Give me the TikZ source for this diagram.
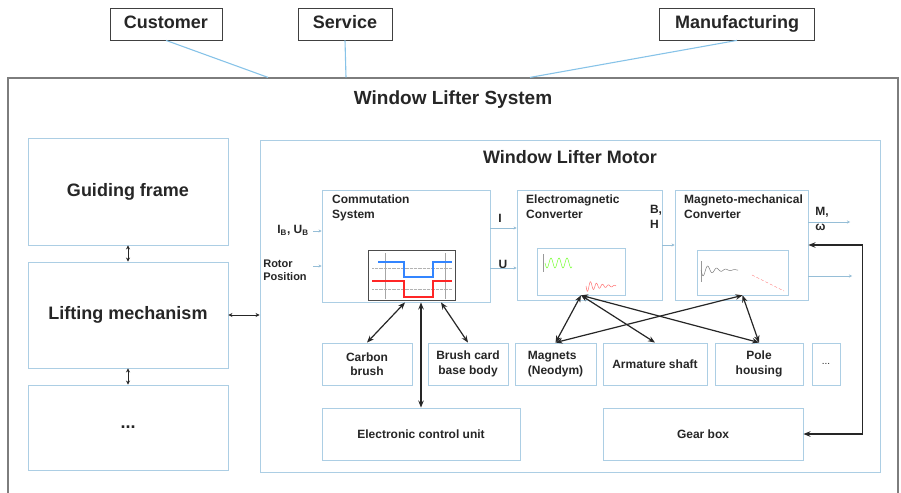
\documentclass[tikz,border=0pt]{standalone}
\usepackage{fontspec}
\setmainfont{Liberation Sans}
\usetikzlibrary{calc,arrows.meta}
\definecolor{frameblue}{RGB}{172,206,228}
\definecolor{linkblue}{RGB}{135,195,232}
\definecolor{sigblue}{RGB}{150,190,215}
\definecolor{outergray}{RGB}{125,125,125}

\begin{document}
\begin{tikzpicture}[x=1pt,y=-1pt,
  box/.style={draw=frameblue,line width=0.9pt,fill=white,inner sep=0pt,text=black!85},
  topbox/.style={draw=black!75,line width=0.8pt,fill=white,inner sep=0pt,minimum height=32pt,text height=13pt,text depth=4pt,font=\fontsize{18}{20}\selectfont\bfseries,text=black!85},
  part/.style={box,align=center,font=\fontsize{12}{14.5}\selectfont\bfseries},
  big/.style={box,minimum width=200pt,font=\fontsize{18}{20}\selectfont\bfseries},
  lbl/.style={inner sep=0pt,align=left,font=\fontsize{12}{14.5}\selectfont\bfseries,text=black!85},
  link/.style={<->,>={Stealth[length=7pt,width=5.5pt]},line width=1.2pt,black!85},
  sig/.style={->,>={Stealth[length=3pt,width=3pt]},sigblue,line width=0.5pt},
  plotbox/.style={draw=frameblue,line width=0.6pt,inner sep=0pt}]
\useasboundingbox (0,0) rectangle (901,492);

% stakeholders and system
\node[draw=outergray,line width=1.2pt,minimum width=890pt,minimum height=420pt] (sys) at (453,288) {};
\node[font=\fontsize{19}{21}\selectfont\bfseries,text=black!85] (systitle) at (453,100) {Window Lifter System};
\node[topbox,minimum width=112pt] (cust) at (166,24) {Customer};
\node[topbox,minimum width=94pt] (serv) at (345,24) {Service};
\node[topbox,minimum width=155pt] (manu) at (737,24) {Manufacturing};
\draw[linkblue,line width=1.1pt] (cust.south) -- ($(sys.north)+(-185,0)$);
\draw[linkblue,line width=1.1pt] (serv.south) -- ($(sys.north)+(-107,0)$);
\draw[linkblue,line width=1.1pt] (manu.south) -- ($(sys.north)+(77,0)$);

% mechanical side
\node[big,minimum height=107pt] (guide) at (128,191.5) {Guiding frame};
\node[big,minimum height=106pt] (lift) at (128,315) {Lifting mechanism};
\node[big,minimum height=85pt] (more) at (128,427.5) {...};
\draw[link,line width=0.8pt,>={Stealth[length=4pt,width=4pt]}] (guide.south) -- (lift.north);
\draw[link,line width=0.8pt,>={Stealth[length=4pt,width=4pt]}] (lift.south) -- (more.north);

% motor
\node[box,minimum width=620pt,minimum height=332pt] (motor) at (570,306) {};
\node[font=\fontsize{18}{20}\selectfont\bfseries,text=black!85] (motortitle) at (570,157) {Window Lifter Motor};
\draw[link,line width=0.8pt,>={Stealth[length=4pt,width=4pt]}] (lift.east) -- (motor.west |- lift.east);

\node[box,minimum width=168pt,minimum height=112pt] (com) at (406,246) {};
\node[box,minimum width=145pt,minimum height=110pt] (em) at (589.5,245) {};
\node[box,minimum width=133pt,minimum height=110pt] (mm) at (741.5,245) {};
\node[lbl,anchor=north west] (comlbl) at (332,195) {Commutation\\System};
\node[lbl,anchor=north west] (emlbl) at (526,195) {Electromagnetic\\Converter};
\node[lbl,anchor=north west] (mmlbl) at (684,195) {Magneto-mechanical\\Converter};

% small plots
\node[plotbox,draw=black!70,minimum width=87pt,minimum height=50pt] (complot) at (411.5,275) {};
\draw[black!30,densely dotted,line width=0.3pt] (372,268)--(452,268) (372,289)--(452,289);
\draw[black!35,line width=0.3pt] (385,253)--(385,299) (445,253)--(445,299);
\draw[blue!60!cyan!80,line width=1.1pt] (378,262)--(404,262)--(404,277)--(433,277)--(433,262)--(452,262);
\draw[red!85,line width=1.1pt] (372,281)--(404,281)--(404,297)--(433,297)--(433,281)--(452,281);
\node[plotbox,minimum width=88pt,minimum height=47pt] (emplot) at (581,271.5) {};
\draw[black!40,line width=0.3pt] (543,254)--(543,272);
\draw[green!55!lime!80,line width=0.5pt] plot[domain=545:572,samples=50] (\x,{263+5*sin(45*(\x-545))});
\draw[red!55,line width=0.5pt] plot[domain=586:616,samples=50] (\x,{286+6*exp(-(\x-586)/14)*sin(60*(\x-586))});
\node[plotbox,minimum width=91pt,minimum height=45pt] (mmplot) at (742.5,272.5) {};
\draw[black!40,line width=0.3pt] (701,261)--(701,282);
\draw[black!50,line width=0.5pt] plot[domain=701:738,samples=50] (\x,{270+7*exp(-(\x-701)/12)*sin(40*(\x-701))});
\draw[red!55,densely dashed,line width=0.4pt] (752,275)--(784,291);

% signals
\node[lbl] (ib) at (293,230) {I\textsubscript{B}, U\textsubscript{B}};
\node[lbl,font=\fontsize{11}{13}\selectfont\bfseries] (rotor) at (285,270) {Rotor\\Position};
\coordinate (ibend) at (313,231);
\coordinate (rotend) at (313,266);
\draw[sig] (ibend) -- (ibend -| com.west);
\draw[sig] (rotend) -- (rotend -| com.west);
\node[lbl] (ilbl) at (500,218) {I};
\node[lbl] (ulbl) at (503,264) {U};
\draw[sig] ($(com.east)+(0,-18)$) -- ($(em.west)+(0,-17)$);
\draw[sig] ($(com.east)+(0,22)$) -- ($(em.west)+(0,23)$);
\node[lbl] (bhlbl) at (656,217) {B,\\H};
\draw[sig] (em.east) -- (mm.west);
\node[lbl] (mwlbl) at (822,219) {M,\\ω};
\coordinate (mout) at (850,222);
\coordinate (wout) at (852,276);
\draw[sig] (mout -| mm.east) -- (mout);
\draw[sig] (wout -| mm.east) -- (wout);

% parts
\node[part,minimum width=90pt,minimum height=42pt] (carbon) at (367,364) {Carbon\\brush};
\node[part,minimum width=80pt,minimum height=42pt] (brush) at (468,364) {Brush card\\base body};
\node[part,minimum width=81pt,minimum height=42pt,align=left] (mag) at (555.5,364) {Magnets\\(Neodym)};
\node[part,minimum width=104pt,minimum height=42pt] (arm) at (655,364) {Armature shaft};
\node[part,minimum width=88pt,minimum height=42pt] (pole) at (759,364) {Pole\\housing};
\node[part,minimum width=28pt,minimum height=42pt,font=\fontsize{10}{12}\selectfont] (dots) at (826,364) {...};
\node[part,minimum width=198pt,minimum height=52pt] (ecu) at (421,434) {Electronic control unit};
\node[part,minimum width=200pt,minimum height=52pt] (gear) at (703,434) {Gear box};

% interactions
\draw[link] ($(com.south)+(-1,0)$) -- (carbon.north);
\draw[link] ($(com.south)+(15,0)$) -- (ecu.north);
\draw[link] ($(com.south)+(35,0)$) -- (brush.north);
\draw[link] (emplot.south) -- (mag.north);
\draw[link] (emplot.south) -- (arm.north);
\draw[link] (emplot.south) -- (pole.north);
\draw[link] (mag.north) -- (mmplot.south);
\draw[link] (mmplot.south) -- (pole.north);
\draw[link] (mm.east) -- ++(54,0) |- (gear.east);
\end{tikzpicture}
\end{document}
